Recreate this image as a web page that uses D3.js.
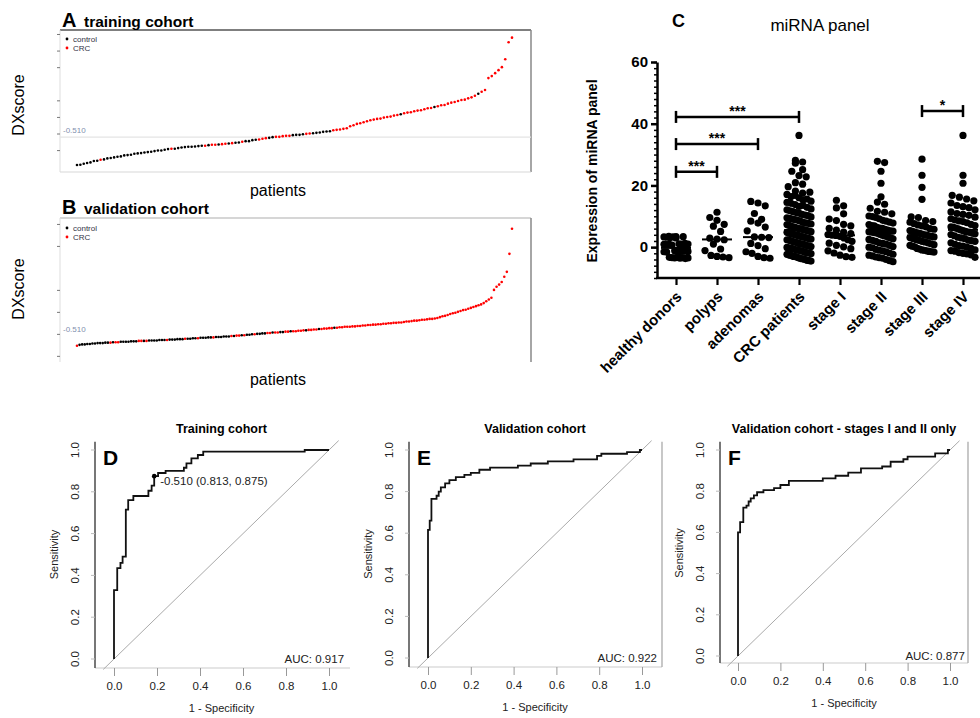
<!DOCTYPE html>
<html lang="en">
<head>
<meta charset="UTF-8">
<title>DXscore, miRNA panel and ROC curves</title>
<script src="https://d3js.org/d3.v7.min.js"></script>
<style>
  body { margin: 0; background: #fff; }
  svg text { font-family: Arial, "Liberation Sans", sans-serif; }
</style>
</head>
<body>
<svg width="980" height="718"></svg>
<script>
// ---------- data: DXscore per patient, sorted (panels A and B) ----------
const trainingScore = [
  -1.35,-1.34,-1.31,-1.29,-1.27,-1.23,-1.22,
  -1.19,-1.18,-1.15,-1.14,-1.12,-1.10,-1.09,-1.06,-1.05,-1.04,
  -1.01,-1.00,-0.99,-0.97,-0.96,-0.95,-0.93,-0.91,-0.91,-0.89,-0.87,-0.86,-0.86,-0.84,-0.82,
  -0.81,-0.80,-0.80,-0.79,-0.78,-0.77,-0.77,-0.75,-0.74,-0.74,-0.73,-0.72,-0.71,-0.70,-0.69,
  -0.68,-0.67,-0.65,-0.63,-0.63,-0.60,-0.59,-0.58,-0.56,-0.54,-0.53,-0.51,
  -0.50,-0.50,-0.48,-0.47,-0.47,-0.45,-0.44,-0.44,-0.42,-0.41,-0.40,-0.39,-0.38,-0.37,
  -0.35,-0.34,-0.33,-0.30,-0.29,-0.28,-0.26,-0.24,
  -0.18,-0.15,-0.11,-0.09,-0.06,-0.03,0.00,
  0.02,0.04,0.05,0.08,0.10,0.11,0.14,0.16,0.18,0.21,
  0.23,0.24,0.27,0.29,0.30,0.33,0.36,0.37,0.40,0.42,
  0.45,0.46,0.50,0.53,0.55,0.58,0.61,0.62,0.66,0.69,
  0.74,0.80,0.86,0.91,
  1.27,1.33,1.42,1.51,1.60,1.84,2.35,2.49
];
const trainingGroup = (
  "cccccccrcc" + "cccccccccc" + "ccccccccrc" + "ccccccccrc" + "rrcrrcrccr" +
  "ccccrrrccr" + "rrrrccccrr" + "ccccccrrrr" + "rrrrrrrrrr" + "rrrrrrcrrr" +
  "rrrrrrcrrr" + "rrrrrrrrrc" + "rrrrrrrrrr").split("");

const validationScore = [
  -0.87,-0.85,-0.84,-0.84,-0.83,-0.83,-0.82,-0.82,-0.81,-0.81,
  -0.81,-0.80,-0.80,-0.80,-0.79,-0.79,-0.79,-0.78,-0.78,-0.78,-0.78,-0.77,-0.77,-0.77,-0.76,-0.76,
  -0.76,-0.76,-0.75,-0.75,-0.75,-0.75,-0.74,-0.74,-0.74,-0.74,
  -0.73,-0.73,-0.73,-0.72,-0.72,-0.72,-0.71,-0.71,-0.71,-0.70,-0.70,-0.70,-0.69,-0.69,-0.69,-0.68,
  -0.68,-0.68,-0.67,-0.67,-0.67,-0.66,-0.66,-0.66,-0.65,-0.65,
  -0.64,-0.64,-0.63,-0.63,-0.62,-0.62,-0.61,-0.61,-0.60,-0.60,-0.59,-0.59,-0.58,-0.58,-0.57,-0.57,
  -0.57,-0.56,-0.56,-0.55,-0.55,-0.54,-0.54,-0.54,-0.53,-0.53,
  -0.52,-0.52,-0.51,-0.51,-0.50,-0.50,-0.49,-0.49,-0.48,-0.48,-0.47,-0.47,-0.46,
  -0.46,-0.45,-0.45,-0.44,-0.44,-0.44,-0.43,-0.43,-0.42,-0.42,-0.41,-0.41,-0.40,-0.40,
  -0.39,-0.39,-0.38,-0.38,-0.37,-0.37,-0.36,-0.36,-0.35,-0.35,-0.34,-0.34,-0.33,
  -0.32,-0.32,-0.31,-0.30,-0.30,-0.29,-0.28,-0.28,-0.27,-0.26,-0.26,-0.25,-0.24,
  -0.22,-0.20,-0.19,-0.17,-0.15,-0.13,-0.12,-0.10,-0.08,-0.06,-0.05,-0.03,-0.01,
  0.01,0.03,0.05,0.07,0.10,
  0.14,0.18,0.22,
  0.40,0.47,0.52,0.58,0.70,0.81,1.22,1.79
];
const validationGroup = (
  "rccccccccc" + "cccrcrrccc" + "ccccrrcrcc" + "cccccrcccc" + "ccrccccrcc" +
  "cccrcccccc" + "rcrrcrcccr" + "ccccrrcrrc" + "crrcrrrrrc" + "rrrrcrrrrr" +
  "crrrrrrrrr" + "rrrrrrrrrr" + "rrrrrrrrrr" + "rrrrrrrrrr" + "rrrrrrrrrr" +
  "rrrrrrrrrr" + "rrrrrrrrrr").split("");

const cutoffScore = -0.510;
const ticksA = [-0.9, -0.4, 0.1, 0.6, 1.6, 2.1, 2.6];
const ticksB = [-1.1, -0.6, -0.1, 0.4, 1.4, 1.9];

// ---------- data: miRNA panel expression (panel C) ----------
const categories = ["healthy donors", "polyps", "adenomas", "CRC patients",
                    "stage I", "stage II", "stage III", "stage IV"];
const healthyDonors = [3.5, 3.4, 3.3, 3.2, 3.4, 3.1, 3.3, 3.0, 1.1, 1.0, 0.9, 1.2, 0.8, 0.9,
  1.0, 0.7, -1.2, -1.3, -1.4, -1.2, -1.5, -1.3, -1.4, -1.6, -3.3, -3.4, -3.5, -3.3, -3.6,
  -3.4, -3.7, -3.5];
const polyps = [11.3, 9.6, 8.7, 7.4, 6.8, 5.1, 2.9, 2.6, 2.4, 1.0, -0.6, -1.1, -2.7, -3.0, -3.2, -3.4];
const adenomas = [14.8, 14.3, 13.4, 10.9, 9.0, 8.4, 7.8, 6.5, 5.3, 3.3, 3.2, 3.1, 1.2, 0.5,
  -0.5, -1.5, -2.0, -3.0, -3.4, -3.6];
const crcPatients = [36.2, 28.1, 27.6, 27.2, 25.1, 24.6, 23.2, 22.8, 20.9, 20.4, 19.6, 18.2,
  17.5, 17.8, 17.1, 16.4, 16.8, 16.0, 15.3, 15.6, 14.9, 14.5, 14.2, 13.8, 13.2, 13.5, 12.9,
  12.4, 12.1, 11.8, 11.5, 11.2, 11.0, 10.6, 10.4, 10.2, 9.8, 9.5, 9.3, 9.1, 8.9, 8.7, 8.4,
  8.0, 7.9, 7.7, 7.5, 7.3, 7.1, 6.8, 6.6, 6.4, 6.2, 6.0, 5.9, 5.7, 5.6, 5.4, 5.2, 5.0,
  4.8, 4.6, 4.4, 4.3, 4.1, 3.9, 3.8, 3.6, 3.4, 3.3, 3.1, 2.9, 2.8, 2.6, 2.4, 2.3, 2.0, 1.8,
  1.6, 1.5, 1.2, 1.1, 1.0, 0.7, 0.5, 0.4, 0.2, -0.1, -0.3, -0.4, -0.6, -0.8, -1.0, -1.1,
  -1.3, -1.6, -1.8, -1.9, -2.1, -2.3, -2.5, -2.6, -2.8, -3.0, -3.1, -3.3, -3.5, -3.7, -3.8,
  -3.9, -4.1, -4.3, -4.4, -4.5];
const stageI = [15.2, 13.4, 12.7, 10.8, 9.1, 8.6, 7.4, 6.9, 6.1, 5.5, 4.9, 4.4, 4.1, 3.9, 3.8,
  3.5, 3.0, 2.4, 1.9, 1.3, 0.6, 0.1, -0.5, -1.2, -1.9, -2.6, -3.1, -3.3];
const stageII = [27.8, 27.4, 24.6, 20.7, 16.3, 14.6, 13.9, 12.6, 11.6, 11.3, 10.8, 10.1, 9.9,
  9.6, 9.2, 8.7, 8.4, 8.1, 7.8, 7.3, 7.0, 6.9, 6.4, 6.2, 6.1, 5.8, 5.5, 5.3, 5.2, 5.0, 4.9,
  4.8, 4.7, 4.5, 4.2, 3.9, 3.7, 3.5, 3.2, 3.0, 2.7, 2.5, 2.2, 1.9, 1.4, 1.2, 1.0, 0.6, 0.2,
  0.0, -0.2, -0.7, -1.0, -1.2, -1.5, -1.9, -2.3, -2.6, -2.8, -3.2, -3.4, -3.6, -4.0, -4.4, -4.7];
const stageIII = [28.5, 23.3, 19.4, 15.5, 9.8, 9.6, 8.6, 8.3, 8.1, 7.6, 7.2, 6.9, 6.6, 6.0,
  5.8, 5.4, 5.1, 4.9, 4.6, 4.5, 4.2, 4.0, 3.9, 3.6, 3.5, 3.3, 3.1, 2.8, 2.5, 2.2, 1.9, 1.7,
  1.4, 1.1, 0.8, 0.6, 0.3, 0.1, -0.4, -0.6, -0.9, -1.0, -1.2, -1.4, -1.5, -1.6];
const stageIV = [36.2, 23.3, 20.7, 16.8, 16.2, 15.6, 15.0, 14.3, 13.5, 13.1, 12.8, 12.1, 11.4,
  10.9, 10.6, 10.3, 9.7, 9.2, 8.8, 8.5, 8.3, 7.9, 7.4, 7.0, 6.6, 6.4, 6.2, 5.9, 5.6, 5.4,
  5.1, 4.9, 4.8, 4.5, 4.3, 4.1, 3.7, 3.2, 3.0, 2.8, 2.3, 2.1, 1.9, 1.4, 0.9, 0.5, 0.3, 0.0,
  -0.4, -0.9, -1.1, -1.3, -1.8, -2.0, -2.2, -2.5, -3.3];
const expressionTicks = [0, 20, 40, 60];
const significance = [
  { from: "healthy donors", to: "CRC patients", level: 42.2, label: "***" },
  { from: "healthy donors", to: "adenomas", level: 33.4, label: "***" },
  { from: "healthy donors", to: "polyps", level: 24.4, label: "***" },
  { from: "stage III", to: "stage IV", level: 44.1, label: "*" }
];

// ---------- data: ROC curves (1 - specificity, sensitivity) ----------
const rocTraining = [[0,0],[0,0.33],[0.015,0.33],[0.015,0.435],[0.03,0.435],[0.03,0.46],
  [0.04,0.46],[0.04,0.49],[0.055,0.49],[0.055,0.715],[0.066,0.715],[0.066,0.76],[0.09,0.76],
  [0.09,0.78],[0.16,0.78],[0.16,0.805],[0.175,0.805],[0.175,0.83],[0.187,0.83],[0.187,0.875],
  [0.205,0.875],[0.205,0.89],[0.24,0.89],[0.24,0.9],[0.325,0.9],[0.325,0.915],[0.337,0.915],
  [0.337,0.936],[0.36,0.936],[0.36,0.96],[0.39,0.96],[0.39,0.976],[0.415,0.976],[0.415,0.992],
  [0.887,0.992],[0.887,1],[1,1]];
const rocValidation = [[0,0],[0,0.616],[0.008,0.616],[0.008,0.66],[0.016,0.66],[0.016,0.765],
  [0.04,0.765],[0.04,0.78],[0.05,0.78],[0.05,0.80],[0.06,0.80],[0.06,0.82],[0.08,0.82],
  [0.08,0.84],[0.1,0.84],[0.1,0.855],[0.13,0.855],[0.13,0.87],[0.17,0.87],[0.17,0.88],
  [0.2,0.88],[0.2,0.89],[0.24,0.89],[0.24,0.905],[0.29,0.905],[0.29,0.915],[0.42,0.915],
  [0.42,0.925],[0.48,0.925],[0.48,0.935],[0.56,0.935],[0.56,0.945],[0.68,0.945],[0.68,0.955],
  [0.79,0.955],[0.79,0.972],[0.81,0.972],[0.81,0.982],[0.93,0.982],[0.93,0.99],[0.99,0.99],
  [0.99,1],[1,1]];
const rocEarlyStage = [[0,0],[0,0.6],[0.01,0.6],[0.01,0.65],[0.025,0.65],[0.025,0.72],
  [0.04,0.72],[0.04,0.73],[0.05,0.73],[0.05,0.75],[0.06,0.75],[0.06,0.765],[0.075,0.765],
  [0.075,0.78],[0.09,0.78],[0.09,0.795],[0.12,0.795],[0.12,0.805],[0.17,0.805],[0.17,0.815],
  [0.2,0.815],[0.2,0.83],[0.24,0.83],[0.24,0.85],[0.4,0.85],[0.4,0.862],[0.46,0.862],
  [0.46,0.875],[0.52,0.875],[0.52,0.89],[0.58,0.89],[0.58,0.911],[0.68,0.911],[0.68,0.92],
  [0.72,0.92],[0.72,0.943],[0.78,0.943],[0.78,0.955],[0.8,0.955],[0.8,0.968],[0.93,0.968],
  [0.93,0.984],[0.99,0.984],[0.99,1],[1,1]];
const aucValues = [0.917, 0.922, 0.877];
const trainingCutoff = { threshold: -0.510, specificity: 0.813, sensitivity: 0.875 };
const rocTicks = [0, 0.2, 0.4, 0.6, 0.8, 1.0];

const svg = d3.select("svg");
svg.append("rect").attr("width", 980).attr("height", 718).attr("fill", "#fff");

// ---------- panels A and B ----------
const scorePanels = [
  { letter: "A", title: "training cohort", scores: trainingScore, groups: trainingGroup,
    top: 30, bottom: 172, domain: [-1.56, 2.72], ticks: ticksA, titleY: 27, labelY: 105,
    patientsY: 196, legendY: 39, topColor: "#555", bottomLine: true, thrLine: true, thrDy: -4 },
  { letter: "B", title: "validation cohort", scores: validationScore, groups: validationGroup,
    top: 218, bottom: 362, domain: [-1.24, 2.035], ticks: ticksB, titleY: 214, labelY: 289,
    patientsY: 385, legendY: 228, topColor: "#c8c8c8", bottomLine: false, thrLine: false, thrDy: 2 }
];

scorePanels.forEach(p => {
  const g = svg.append("g");
  const x = d3.scaleLinear().domain([0, p.scores.length - 1]).range([77, 512]);
  const y = d3.scaleLinear().domain(p.domain).range([p.bottom, p.top]);

  // frame
  g.append("line").attr("x1", 60).attr("x2", 531).attr("y1", p.top).attr("y2", p.top)
    .attr("stroke", p.topColor).attr("stroke-width", 1.5);
  g.append("line").attr("x1", 531).attr("x2", 531).attr("y1", p.top).attr("y2", p.bottom)
    .attr("stroke", "#888").attr("stroke-width", 1.5);
  g.append("line").attr("x1", 60).attr("x2", 60).attr("y1", p.top).attr("y2", p.bottom)
    .attr("stroke", "#ddd");
  if (p.bottomLine) {
    g.append("line").attr("x1", 60).attr("x2", 531).attr("y1", p.bottom).attr("y2", p.bottom)
      .attr("stroke", "#d8d8d8").attr("stroke-width", 1.2);
  }
  g.append("g").attr("transform", "translate(60,0)")
    .call(d3.axisLeft(y).tickValues(p.ticks).tickSize(3).tickFormat(""))
    .call(s => s.select(".domain").remove())
    .call(s => s.selectAll(".tick line").attr("stroke", "#777"));

  // cutoff
  if (p.thrLine) {
    g.append("line").attr("x1", 60).attr("x2", 531).attr("y1", y(cutoffScore)).attr("y2", y(cutoffScore))
      .attr("stroke", "#e4e4e4").attr("stroke-width", 1.2);
  }
  g.append("text").attr("x", 63).attr("y", y(cutoffScore) + p.thrDy)
    .attr("font-size", 8).attr("fill", "#7f8fae").text(cutoffScore.toFixed(3));

  // points
  g.selectAll("circle.pt").data(p.scores).join("circle").attr("class", "pt")
    .attr("cx", (d, i) => x(i)).attr("cy", d => y(d)).attr("r", 1.3)
    .attr("fill", (d, i) => p.groups[i] === "r" ? "#ff0000" : "#000");

  // legend
  [["control", "#000"], ["CRC", "#ff0000"]].forEach(([name, col], i) => {
    g.append("circle").attr("cx", 67).attr("cy", p.legendY + i * 9).attr("r", 1.4).attr("fill", col);
    g.append("text").attr("x", 73).attr("y", p.legendY + 3 + i * 9).attr("font-size", 8)
      .attr("fill", "#334").text(name);
  });

  // titles
  g.append("text").attr("x", 62).attr("y", p.titleY).attr("font-size", 20).attr("font-weight", "bold")
    .text(p.letter);
  g.append("text").attr("x", 84).attr("y", p.titleY).attr("font-size", 15.5).attr("font-weight", "bold")
    .text(p.title);
  g.append("text").attr("transform", `translate(24,${p.labelY}) rotate(-90)`)
    .attr("text-anchor", "middle").attr("font-size", 16).text("DXscore");
  g.append("text").attr("x", 278).attr("y", p.patientsY).attr("text-anchor", "middle")
    .attr("font-size", 16).text("patients");
});

// ---------- panel C ----------
const groupValues = [healthyDonors, polyps, adenomas, crcPatients, stageI, stageII, stageIII, stageIV];
const yC = d3.scaleLinear().domain([-10, 60]).range([278, 62]);
const xC = d3.scalePoint().domain(categories).range([676, 963]);
const gC = svg.append("g");

gC.append("text").attr("x", 672).attr("y", 27).attr("font-size", 18).attr("font-weight", "bold").text("C");
gC.append("text").attr("x", 820).attr("y", 31).attr("text-anchor", "middle").attr("font-size", 17)
  .text("miRNA panel");
gC.append("text").attr("transform", "translate(597,171) rotate(-90)").attr("text-anchor", "middle")
  .attr("font-size", 14).attr("font-weight", "bold").text("Expression of miRNA panel");

// y axis: minor ticks every 2, major ticks labelled
gC.append("g").attr("transform", "translate(657,0)")
  .call(d3.axisLeft(yC).tickValues(d3.range(-10, 61, 2)).tickSize(3).tickSizeOuter(0).tickFormat(""))
  .call(s => s.select(".domain").attr("stroke-width", 2.5))
  .call(s => s.selectAll(".tick line").attr("stroke-width", 1.5));
gC.append("g").attr("transform", "translate(657,0)")
  .call(d3.axisLeft(yC).tickValues(expressionTicks).tickSize(6).tickPadding(3))
  .call(s => s.select(".domain").remove())
  .call(s => s.selectAll(".tick line").attr("stroke-width", 2.5))
  .call(s => s.selectAll(".tick text").attr("font-size", 15).attr("font-weight", "bold")
    .attr("font-family", "Arial, 'Liberation Sans', sans-serif").attr("fill", "#000"));

// x axis
gC.append("line").attr("x1", 656).attr("x2", 980).attr("y1", 278).attr("y2", 278)
  .attr("stroke", "#000").attr("stroke-width", 2.5);
gC.append("g").attr("transform", "translate(0,278)")
  .call(d3.axisBottom(xC).tickSize(7).tickFormat(""))
  .call(s => s.select(".domain").remove())
  .call(s => s.selectAll(".tick line").attr("stroke-width", 2.2));
gC.selectAll("text.cat").data(categories).join("text").attr("class", "cat")
  .attr("transform", d => `translate(${xC(d) + 3},${294}) rotate(-45)`)
  .attr("text-anchor", "end").attr("dy", "0.35em")
  .attr("font-size", 15).attr("font-weight", "bold").text(d => d);

// scatter dots: group close values into rows, spread each row horizontally
function spreadGroup(values, cx) {
  const rowSize = 2.3, maxSpan = 24;
  const sorted = values.map((v, i) => ({ v, i })).sort((a, b) => a.v - b.v);
  const rows = [];
  sorted.forEach(d => {
    const last = rows[rows.length - 1];
    if (last && d.v - last[0].v <= rowSize) last.push(d);
    else rows.push([d]);
  });
  const out = [];
  rows.forEach(row => {
    row.sort((a, b) => a.i - b.i);
    const n = row.length;
    const step = n > 1 ? Math.min(7.2, maxSpan / (n - 1)) : 0;
    row.forEach((d, k) => out.push({ v: d.v, x: cx + (k - (n - 1) / 2) * step }));
  });
  return out;
}
categories.forEach((cat, k) => {
  const vals = groupValues[k];
  const dots = spreadGroup(vals, xC(cat));
  gC.append("g").selectAll("circle").data(dots).join("circle")
    .attr("cx", d => d.x).attr("cy", d => yC(d.v)).attr("r", 3.6).attr("fill", "#000");
  const med = d3.median(vals);
  gC.append("line").attr("x1", xC(cat) - 15).attr("x2", xC(cat) + 15)
    .attr("y1", yC(med)).attr("y2", yC(med)).attr("stroke", "#000").attr("stroke-width", 2);
});

// significance brackets
significance.forEach(s => {
  const x1 = xC(s.from), x2 = xC(s.to), yy = yC(s.level);
  const b = gC.append("g").attr("stroke", "#000").attr("stroke-width", 2.5);
  b.append("line").attr("x1", x1).attr("x2", x2).attr("y1", yy).attr("y2", yy);
  b.append("line").attr("x1", x1).attr("x2", x1).attr("y1", yy - 6).attr("y2", yy + 6);
  b.append("line").attr("x1", x2).attr("x2", x2).attr("y1", yy - 6).attr("y2", yy + 6);
  gC.append("text").attr("x", (x1 + x2) / 2).attr("y", yy - 1).attr("text-anchor", "middle")
    .attr("font-size", 14).attr("font-weight", "bold").text(s.label);
});

// ---------- panels D, E, F ----------
const rocPanels = [
  { letter: "D", title: "Training cohort", pts: rocTraining, auc: aucValues[0],
    x0: 114, x1: 329, y0: 659, y1: 450, axisX: 95, axisY: 668, right: 350, border: false, cutoff: true },
  { letter: "E", title: "Validation cohort", pts: rocValidation, auc: aucValues[1],
    x0: 428, x1: 642, y0: 658, y1: 450, axisX: 409, axisY: 667, right: 662, border: true, cutoff: false },
  { letter: "F", title: "Validation cohort - stages I and II only", pts: rocEarlyStage, auc: aucValues[2],
    x0: 738, x1: 950, y0: 656, y1: 450, axisX: 720, axisY: 663, right: 968, border: true, cutoff: false }
];
const fmt1 = d3.format(".1f");

rocPanels.forEach(p => {
  const g = svg.append("g");
  const x = d3.scaleLinear().domain([0, 1]).range([p.x0, p.x1]);
  const y = d3.scaleLinear().domain([0, 1]).range([p.y0, p.y1]);
  const cx = (p.x0 + p.x1) / 2;

  // axes
  g.append("line").attr("x1", p.axisX).attr("x2", p.right).attr("y1", p.axisY).attr("y2", p.axisY)
    .attr("stroke", "#ccc").attr("stroke-width", 1.2);
  g.append("line").attr("x1", p.axisX).attr("x2", p.axisX).attr("y1", y(1.04)).attr("y2", p.axisY)
    .attr("stroke", "#555").attr("stroke-width", 1.6);
  if (p.border) {
    g.append("line").attr("x1", p.right).attr("x2", p.right).attr("y1", y(1.04)).attr("y2", p.axisY)
      .attr("stroke", "#aaa").attr("stroke-width", 1.3);
  }
  g.append("g").attr("transform", `translate(0,${p.axisY})`)
    .call(d3.axisBottom(x).tickValues(rocTicks).tickSize(8).tickPadding(6).tickFormat(fmt1))
    .call(s => s.select(".domain").remove())
    .call(s => s.selectAll(".tick line").attr("stroke", "#999"))
    .call(s => s.selectAll(".tick text").attr("font-size", 11.5).attr("fill", "#222")
      .attr("font-family", "Arial, 'Liberation Sans', sans-serif"));
  g.selectAll("text.ytick").data(rocTicks).join("text").attr("class", "ytick")
    .attr("transform", d => `translate(${p.axisX - 16},${y(d)}) rotate(-90)`)
    .attr("text-anchor", "middle").attr("font-size", 11.5).attr("fill", "#222").text(fmt1);
  g.selectAll("line.ytick").data(rocTicks).join("line").attr("class", "ytick")
    .attr("x1", p.axisX - 4).attr("x2", p.axisX).attr("y1", d => y(d)).attr("y2", d => y(d))
    .attr("stroke", "#bbb");

  // chance line and curve
  g.append("line").attr("x1", x(-0.05)).attr("y1", y(-0.05)).attr("x2", x(1.045)).attr("y2", y(1.045))
    .attr("stroke", "#aaa").attr("stroke-width", 1);
  g.append("path").datum(p.pts)
    .attr("d", d3.line().x(d => x(d[0])).y(d => y(d[1])))
    .attr("fill", "none").attr("stroke", "#111").attr("stroke-width", 1.8);

  if (p.cutoff) {
    const fx = 1 - trainingCutoff.specificity, fy = trainingCutoff.sensitivity;
    g.append("circle").attr("cx", x(fx)).attr("cy", y(fy)).attr("r", 2.3).attr("fill", "#000");
    g.append("text").attr("x", x(fx) + 6).attr("y", y(fy) + 9).attr("font-size", 11.5).attr("fill", "#222")
      .text(`${trainingCutoff.threshold.toFixed(3)} (${trainingCutoff.specificity.toFixed(3)}, ${trainingCutoff.sensitivity.toFixed(3)})`);
  }

  // texts
  g.append("text").attr("x", x(1.07)).attr("y", y(0) + 4).attr("text-anchor", "end")
    .attr("font-size", 11.5).attr("fill", "#222").text(`AUC: ${p.auc.toFixed(3)}`);
  g.append("text").attr("x", cx).attr("y", 433).attr("text-anchor", "middle")
    .attr("font-size", 12.5).attr("font-weight", "bold").text(p.title);
  g.append("text").attr("x", p.axisX + 8).attr("y", 465)
    .attr("font-size", 21).attr("font-weight", "bold").text(p.letter);
  g.append("text").attr("x", cx).attr("y", p.axisY + 44).attr("text-anchor", "middle")
    .attr("font-size", 11).attr("fill", "#222").text("1 - Specificity");
  g.append("text").attr("transform", `translate(${p.axisX - 37},${(p.y0 + p.y1) / 2}) rotate(-90)`)
    .attr("text-anchor", "middle").attr("font-size", 11).attr("fill", "#222").text("Sensitivity");
});
</script>
</body>
</html>
